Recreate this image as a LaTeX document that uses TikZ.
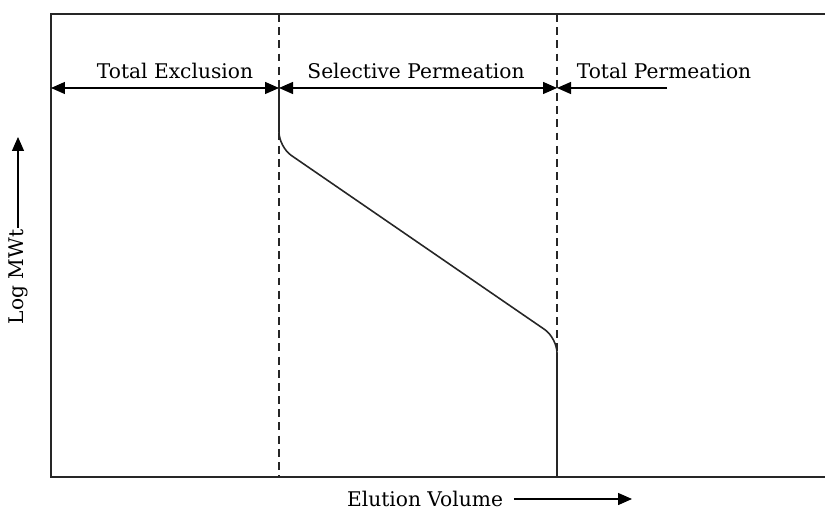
\documentclass[tikz,border=0pt]{standalone}
\usepackage{fontspec}
\setmainfont{DejaVu Serif}
\usetikzlibrary{arrows.meta, positioning}

\begin{document}
\begin{tikzpicture}[
  x=0.02cm, y=-0.02cm,
  frame/.style={line width=1pt, black!85},
  divider/.style={line width=0.7pt, dash pattern=on 4.5pt off 3pt, black!85},
  span/.style={{Triangle[length=2.8mm, width=2.4mm]}-{Triangle[length=2.8mm, width=2.4mm]},
               line width=0.8pt},
  tip/.style={-{Triangle[length=2.8mm, width=2.4mm]}, line width=0.8pt},
  trace/.style={line width=0.9pt, black!85, rounded corners=0.3cm},
  lbl/.style={font=\fontsize{11.5}{13}\selectfont, inner sep=1pt}
]
\useasboundingbox (0,0) rectangle (825,513);
\coordinate (tl) at (51,14);
\coordinate (bl) at (51,477);
\coordinate (tr) at (825,14);
\coordinate (br) at (825,477);
\draw[frame] (tr) -- (tl) -- (bl) -- (br);
\coordinate (d1top) at (279,14);
\coordinate (d1bot) at (279,477);
\coordinate (d2top) at (557,14);
\coordinate (d2bot) at (557,477);
\draw[divider] (d1top) -- (d1bot);
\draw[divider] (d2top) -- (d2bot);
\coordinate (a0) at (51,88);
\coordinate (a1) at (279,88);
\coordinate (a2) at (557,88);
\coordinate (a3) at (667,88);
\draw[span] (a0) -- (a1);
\draw[span] (a1) -- (a2);
\draw[tip] (a3) -- (a2);
\node[lbl] (excl) at (175,71) {Total Exclusion};
\node[lbl] (sel) at (416,71) {Selective Permeation};
\node[lbl] (perm) at (664,71) {Total Permeation};
\draw[trace] (a1) -- (279,147) -- (557,338) -- (d2bot);
\node[lbl, rotate=90] (ylab) at (18,277) {Log MWt};
\coordinate (ytip) at (18,137);
\draw[tip] (ylab.east) -- (ytip);
\node[lbl] (xlab) at (425,499) {Elution Volume};
\coordinate (xtip) at (632,499);
\draw[tip] ([xshift=5pt]xlab.east) -- (xtip);
\end{tikzpicture}
\end{document}
